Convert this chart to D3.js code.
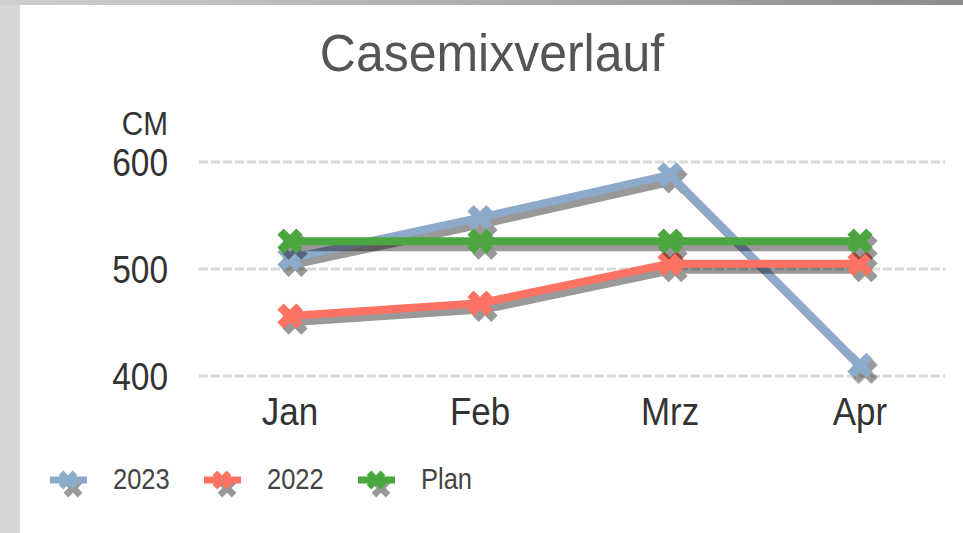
<!DOCTYPE html>
<html>
<head>
<meta charset="utf-8">
<script src="https://cdn.jsdelivr.net/npm/d3@7"></script>
<style>
  body { margin: 0; background: #fff; }
  svg { display: block; }
  text { font-family: "Liberation Sans", Arial, sans-serif; }
</style>
</head>
<body>
<svg width="963" height="533"></svg>
<script>
var months = ["Jan", "Feb", "Mrz", "Apr"];
var seriesNames = ["2023", "2022", "Plan"];
var values2023 = [510, 548, 588, 410];
var values2022 = [456, 468, 505, 505];
var valuesPlan = [526, 526, 526, 526];
var yTicks = [400, 500, 600];
var colors = ["#8eaacb", "#fd7262", "#4ba63f"];

var svg = d3.select("svg")
    , width = +svg.attr("width")
    , height = +svg.attr("height");

// frame
var defs = svg.append("defs");
var grad = defs.append("linearGradient").attr("id", "topgrad");
grad.append("stop").attr("offset", "0%").attr("stop-color", "#cfcfcf");
grad.append("stop").attr("offset", "100%").attr("stop-color", "#8c8c8c");
svg.append("rect").attr("width", width).attr("height", height).attr("fill", "#d6d6d6");
svg.append("rect").attr("width", width).attr("height", 5).attr("fill", "url(#topgrad)");
svg.append("rect").attr("x", 20).attr("y", 5).attr("width", width - 20).attr("height", height - 5).attr("fill", "#fff");

var x = d3.scalePoint().domain(months).range([290, 860]);
var y = d3.scaleLinear().domain([400, 600]).range([376, 162]);

svg.append("text")
    .attr("transform", "translate(492,71) scale(0.98,1)")
    .attr("text-anchor", "middle")
    .attr("font-size", 51)
    .attr("fill", "#555")
    .text("Casemixverlauf");

// grid
svg.append("g").selectAll("line").data(yTicks).enter().append("line")
    .attr("x1", 199).attr("x2", 945)
    .attr("y1", function (d) { return y(d); })
    .attr("y2", function (d) { return y(d); })
    .attr("stroke", "#d9d9d9")
    .attr("stroke-width", 3)
    .attr("stroke-dasharray", "9,3");

// y labels
svg.append("g").selectAll("text").data(yTicks).enter().append("text")
    .attr("transform", function (d) { return "translate(168," + (y(d) + 14) + ") scale(0.88,1)"; })
    .attr("text-anchor", "end")
    .attr("font-size", 38)
    .attr("fill", "#333")
    .text(function (d) { return d; });
svg.append("text")
    .attr("transform", "translate(168,135) scale(0.9,1)")
    .attr("text-anchor", "end")
    .attr("font-size", 33)
    .attr("fill", "#333")
    .text("CM");

// x labels
svg.append("g").selectAll("text").data(months).enter().append("text")
    .attr("transform", function (d) { return "translate(" + x(d) + ",425) scale(0.92,1)"; })
    .attr("text-anchor", "middle")
    .attr("font-size", 38)
    .attr("fill", "#333")
    .text(function (d) { return d; });

var marker = d3.symbol().type(d3.symbolCross).size(400);
var line = d3.line().x(function (d) { return x(d.m); }).y(function (d) { return y(d.v); });
var sdx = 5, sdy = 6;

var series = [values2023, values2022, valuesPlan].map(function (vals, i) {
    return { name: seriesNames[i], color: colors[i], pts: months.map(function (m, j) { return { m: m, v: vals[j] }; }) };
});

series.forEach(function (s) {
    var g = svg.append("g");
    var sh = g.append("g").attr("transform", "translate(" + sdx + "," + sdy + ")").attr("opacity", 0.4);
    sh.append("path").attr("d", line(s.pts)).attr("fill", "none").attr("stroke", "#000").attr("stroke-width", 8).attr("stroke-linejoin", "round");
    sh.selectAll("path.m").data(s.pts).enter().append("path")
        .attr("transform", function (d) { return "translate(" + x(d.m) + "," + y(d.v) + ") rotate(45)"; })
        .attr("d", marker).attr("fill", "#000");
    g.append("path").attr("d", line(s.pts)).attr("fill", "none").attr("stroke", s.color).attr("stroke-width", 8).attr("stroke-linejoin", "round");
    g.selectAll("path.m").data(s.pts).enter().append("path")
        .attr("transform", function (d) { return "translate(" + x(d.m) + "," + y(d.v) + ") rotate(45)"; })
        .attr("d", marker).attr("fill", s.color);
});

// legend
var legend = svg.append("g").selectAll("g").data(series).enter().append("g")
    .attr("transform", function (d, i) { return "translate(" + (68 + i * 154) + ",480)"; });
legend.each(function (s) {
    var g = d3.select(this);
    var sh = g.append("g").attr("transform", "translate(" + sdx + "," + (sdy + 2) + ")").attr("opacity", 0.4);
    sh.append("path").attr("d", d3.symbol().type(d3.symbolCross).size(220)).attr("transform", "rotate(45)").attr("fill", "#000");
    g.append("line").attr("x1", -18).attr("x2", 19).attr("y1", 0).attr("y2", 0).attr("stroke", s.color).attr("stroke-width", 7);
    g.append("path").attr("d", d3.symbol().type(d3.symbolCross).size(220)).attr("transform", "rotate(45)").attr("fill", s.color);
    g.append("text")
        .attr("transform", "translate(45,9) scale(0.88,1)")
        .attr("font-size", 29)
        .attr("fill", "#444")
        .text(s.name);
});
</script>
</body>
</html>
